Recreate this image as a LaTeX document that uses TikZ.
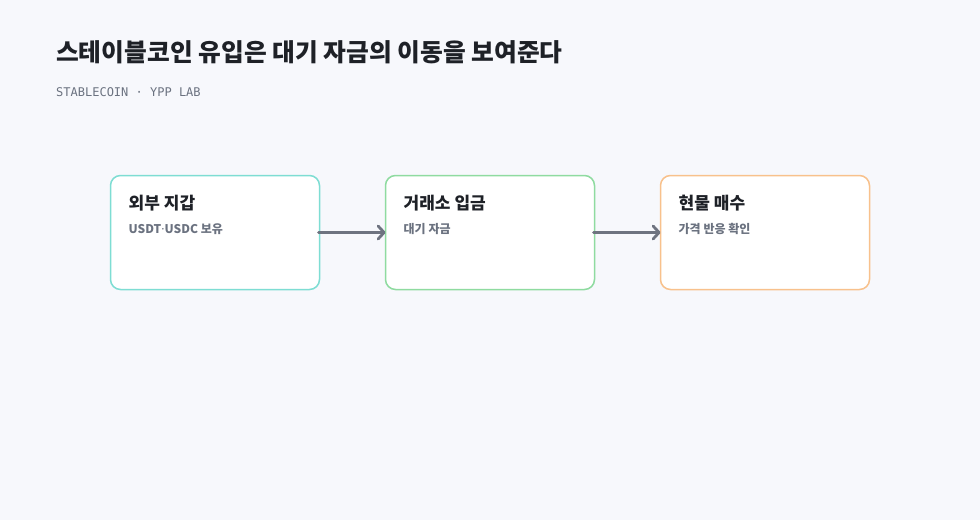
\documentclass[tikz,border=0pt]{standalone}
\usepackage{fontspec}
\usepackage{xcolor}
\usepackage{tikz}
\usetikzlibrary{arrows.meta, positioning}
\newfontfamily\krfont{Noto Sans CJK KR}
\newfontfamily\latinfont{Noto Sans}
\newfontfamily\monofont{DejaVu Sans Mono}
\definecolor{PageBg}{HTML}{F7F8FC}
\definecolor{InkDark}{HTML}{1E2127}
\definecolor{InkGray}{HTML}{6B7280}
\definecolor{ArrowGray}{HTML}{6E7380}
\definecolor{TealEdge}{HTML}{7EDDD3}
\definecolor{GreenEdge}{HTML}{8FDBA0}
\definecolor{OrangeEdge}{HTML}{F8C18C}

\begin{document}
\begin{tikzpicture}[x=1pt, y=1pt,
  stage/.style={draw=#1, fill=white, line width=1.5pt, rounded corners=10pt,
                minimum width=209pt, minimum height=114pt, inner sep=0pt, outer sep=0pt},
  stagetitle/.style={anchor=base west, inner sep=0pt,
                     font=\krfont\bfseries\fontsize{17}{19}\selectfont, text=InkDark},
  stagenote/.style={anchor=base west, inner sep=0pt,
                    font=\krfont\bfseries\fontsize{12}{14}\selectfont, text=InkGray},
  arr/.style={-{Straight Barb[length=6pt, width=13pt, round]}, line width=2.8pt,
              line cap=round, ArrowGray, shorten <=-1pt},
]
\fill[PageBg] (0,0) rectangle (980,-520);
\useasboundingbox (0,0) rectangle (980,-520);

% header
\node[anchor=base west, inner sep=0pt, text=InkDark,
      font=\krfont\bfseries\fontsize{24.75}{30}\selectfont] (title) at (56,-61)
  {스테이블코인 유입은 대기 자금의 이동을 보여준다};
\node[anchor=base west, inner sep=0pt, text=InkGray,
      font=\monofont\fontsize{12}{14}\selectfont] (tag) at (56,-96.5)
  {STABLECOIN · YPP LAB};

% stages
\node[stage=TealEdge] (wallet) at (215,-232.5) {};
\node[stage=GreenEdge, right=66pt of wallet] (deposit) {};
\node[stage=OrangeEdge, right=66pt of deposit] (spot) {};

\node[stagetitle] (walletT) at ([shift={(18,-34)}]wallet.north west) {외부 지갑};
\node[stagenote] (walletN) at ([shift={(18,-58)}]wallet.north west)
  {USDT{\latinfont\bfseries ·}USDC 보유};
\node[stagetitle] (depositT) at ([shift={(18,-34)}]deposit.north west) {거래소 입금};
\node[stagenote] (depositN) at ([shift={(18,-58)}]deposit.north west) {대기 자금};
\node[stagetitle] (spotT) at ([shift={(18,-34)}]spot.north west) {현물 매수};
\node[stagenote] (spotN) at ([shift={(18,-58)}]spot.north west) {가격 반응 확인};

\draw[arr] (wallet.east) -- (deposit.west);
\draw[arr] (deposit.east) -- (spot.west);
\end{tikzpicture}
\end{document}
